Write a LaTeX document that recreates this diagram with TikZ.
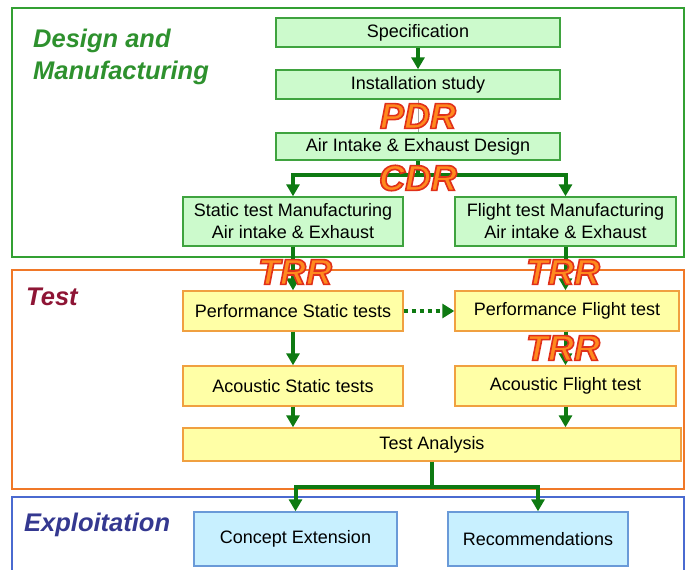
\documentclass[tikz,border=0pt]{standalone}
\usepackage{fontspec}
\setmainfont{Liberation Sans}
\usetikzlibrary{arrows.meta}
\definecolor{frgreen}{HTML}{33A033}
\definecolor{frorange}{HTML}{F07828}
\definecolor{frblue}{HTML}{4A6AD0}
\definecolor{gfill}{HTML}{CCFACC}
\definecolor{gedge}{HTML}{3FA33F}
\definecolor{yfill}{HTML}{FFFFA6}
\definecolor{yedge}{HTML}{F0A040}
\definecolor{bfill}{HTML}{C8F0FF}
\definecolor{bedge}{HTML}{6A9AD8}
\definecolor{arrgreen}{HTML}{0E7A12}
\definecolor{lblgreen}{HTML}{2E912E}
\definecolor{lblred}{HTML}{8E1535}
\definecolor{lblblue}{HTML}{343890}
\definecolor{revfill}{HTML}{FF8A1E}
\definecolor{revedge}{HTML}{E0301A}
\tikzset{
  x=1pt, y=-1pt,
  frame/.style={line width=2.2pt},
  box/.style={line width=1.4pt, align=center, inner sep=0pt,
    font=\fontsize{18}{22}\selectfont},
  gbox/.style={box, draw=gedge, fill=gfill},
  ybox/.style={box, draw=yedge, fill=yfill},
  bbox/.style={box, draw=bedge, fill=bfill},
  arr/.style={draw=arrgreen, line width=4pt,
    -{Triangle[width=13pt,length=12pt]}},
  dotarr/.style={draw=arrgreen, line width=4pt, dash pattern=on 4pt off 4pt,
    -{Triangle[width=14pt,length=12pt]}},
  thinline/.style={draw=gray!70, line width=0.8pt},
  sect/.style={anchor=north west, inner sep=0pt, align=left,
    font=\fontsize{25.5}{32}\selectfont\bfseries\itshape},
  review/.style={inner sep=0pt, text=revfill,
    font=\fontsize{36}{40}\selectfont\bfseries\itshape},
}
\newcommand{\revtext}[1]{\special{pdf:literal 2 Tr 1.6 w 0.878 0.188 0.102 RG 1 0.541 0.118 rg}#1\special{pdf:literal 0 Tr}}
\begin{document}
\begin{tikzpicture}
\useasboundingbox (0,0) rectangle (686,570);
\begin{scope}
\clip (0,0) rectangle (686,570);
% frames
\draw[frame, draw=frgreen] (12,8) rectangle (684,257);
\draw[frame, draw=frorange] (12,270) rectangle (684,489);
\draw[frame, draw=frblue] (12,497) rectangle (684,600);
\end{scope}

% section labels
\node[sect, text=lblgreen] (lab1) at (33,29) {Design and\\Manufacturing};
\node[sect, text=lblred] (lab2) at (26,288) {Test};
\node[sect, text=lblblue] (lab3) at (24,513) {Exploitation};

% boxes
\node[gbox, minimum width=284pt, minimum height=29pt] (spec) at (418,32.5) {Specification};
\node[gbox, minimum width=284pt, minimum height=29pt] (inst) at (418,84.5) {Installation study};
\node[gbox, minimum width=284pt, minimum height=27pt] (air) at (418,146.5) {Air Intake \& Exhaust Design};
\node[gbox, minimum width=220pt, minimum height=49pt] (stat) at (293,221.5) {Static test Manufacturing\\Air intake \& Exhaust};
\node[gbox, minimum width=221pt, minimum height=49pt] (flig) at (565.5,221.5) {Flight test Manufacturing\\Air intake \& Exhaust};
\node[ybox, minimum width=220pt, minimum height=40pt] (perfS) at (293,311) {Performance Static tests};
\node[ybox, minimum width=224pt, minimum height=40pt] (perfF) at (567,311) {Performance Flight test};
\node[ybox, minimum width=220pt, minimum height=40pt] (acS) at (293,386) {Acoustic Static tests};
\node[ybox, minimum width=221pt, minimum height=40pt] (acF) at (565.5,386) {Acoustic Flight test};
\node[ybox, minimum width=498pt, minimum height=33pt] (ta) at (432,444.5) {Test Analysis};
\node[bbox, minimum width=203pt, minimum height=54pt] (ce) at (295.5,539) {Concept Extension};
\node[bbox, minimum width=180pt, minimum height=54pt] (rec) at (538,539) {Recommendations};

% connectors
\draw[arr] (spec) -- (inst);
\draw[thinline] (inst) -- (air);
\coordinate (split1) at (418,175);
\draw[arr] (air.south) -- (split1) -| (stat.north);
\draw[arr] (split1) -| (flig.north);
\draw[arr] (stat.south) -- (perfS.north);
\draw[arr] (flig.south) -- (flig.south |- perfF.north);
\draw[arr] (perfS) -- (acS);
\draw[arr] (flig.south |- perfF.south) -- (flig.south |- acF.north);
\draw[arr] (acS.south) -- (acS.south |- ta.north);
\draw[arr] (acF.south) -- (acF.south |- ta.north);
\draw[dotarr] (perfS.east) -- (perfF.west);
\coordinate (split2) at (432,487);
\draw[arr] (ta.south -| split2) -- (split2) -| (ce.north);
\draw[arr] (split2) -| (rec.north);

% review milestones
\node[review] (pdr) at (418,116) {\revtext{PDR}};
\node[review] (cdr) at (418,178) {\revtext{CDR}};
\node[review] (trr1) at (295,272) {\revtext{TRR}};
\node[review] (trr2) at (563,272) {\revtext{TRR}};
\node[review] (trr3) at (563,348) {\revtext{TRR}};
\end{tikzpicture}
\end{document}
